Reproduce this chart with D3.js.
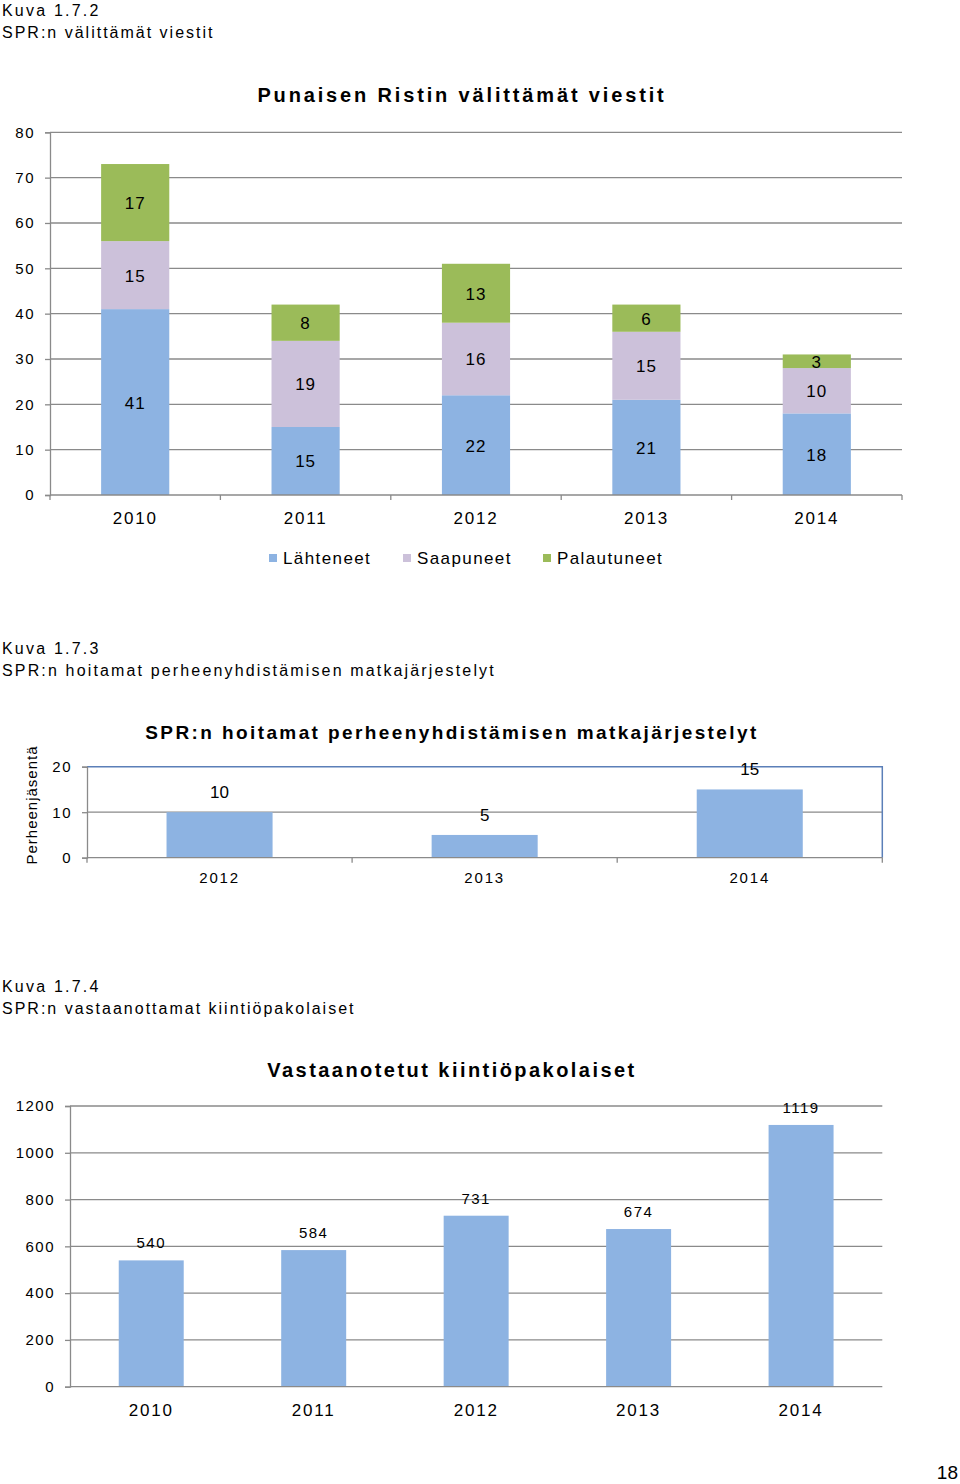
<!DOCTYPE html>
<html><head><meta charset="utf-8">
<script src="https://cdn.jsdelivr.net/npm/d3@7"></script>
<style>
body{margin:0;background:#fff;}
svg{display:block;font-family:"Liberation Sans",Arial,sans-serif;}
</style></head>
<body>
<svg id="c" width="960" height="1484"></svg>
<script>
// ---- Data ----
const years1 = ["2010","2011","2012","2013","2014"];
const seriesNames1 = ["Lähteneet","Saapuneet","Palautuneet"];
const lahteneet = [41,15,22,21,18];
const saapuneet = [15,19,16,15,10];
const palautuneet = [17,8,13,6,3];
const yTicks1 = [0,10,20,30,40,50,60,70,80];

const years2 = ["2012","2013","2014"];
const perhe = [10,5,15];
const yTicks2 = [0,10,20];

const years3 = ["2010","2011","2012","2013","2014"];
const kiintio = [540,584,731,674,1119];
const yTicks3 = [0,200,400,600,800,1000,1200];

const colors1 = ["#8db3e2","#ccc1da","#9bbb59"];
const barBlue = "#8db3e2";
const gridC = "#8a8a8a";

const svg = d3.select("#c");

function txt(x,y,s,opt={}){
  const t = svg.append("text").attr("x",x).attr("y",y).text(s)
    .attr("font-size",opt.size||16)
    .attr("fill","#000")
    .attr("letter-spacing",opt.ls!==undefined?opt.ls:1.3)
    .attr("text-anchor",opt.anchor||"start");
  if(opt.bold) t.attr("font-weight","bold");
  return t;
}

// ---- Headers ----
txt(2,16,"Kuva 1.7.2",{size:16,ls:2.2});
txt(2,38,"SPR:n välittämät viestit",{size:16,ls:2.0});
txt(462,102,"Punaisen Ristin välittämät viestit",{size:20,bold:true,ls:2.85,anchor:"middle"});

// ---- Chart 1: stacked ----
{
  const left=50,right=902,top=132.3,bottom=495;
  const x = d3.scaleBand().domain(years1).range([left,right]).paddingInner(0.6).paddingOuter(0.3);
  const y = d3.scaleLinear().domain([0,80]).range([bottom,top]);
  const g = svg.append("g");
  g.selectAll("line.grid").data(yTicks1.filter(d=>d>0)).join("line")
    .attr("x1",left).attr("x2",right).attr("y1",d=>y(d)).attr("y2",d=>y(d))
    .attr("stroke",gridC).attr("stroke-width",1.3);
  const ya = g.append("g").attr("transform",`translate(${left},0)`)
    .call(d3.axisLeft(y).tickValues(yTicks1).tickFormat(d3.format("d")).tickSize(5).tickPadding(10));
  ya.select(".domain").attr("stroke",gridC).attr("stroke-width",1.3);
  ya.selectAll(".tick line").attr("stroke",gridC).attr("stroke-width",1.3);
  ya.selectAll("text").attr("font-size",15).attr("letter-spacing",1.5).attr("fill","#000")
    .attr("font-family","Liberation Sans, Arial, sans-serif");
  const rows = years1.map((yr,i)=>({year:yr,"Lähteneet":lahteneet[i],"Saapuneet":saapuneet[i],"Palautuneet":palautuneet[i]}));
  const stack = d3.stack().keys(seriesNames1)(rows);
  stack.forEach((layer,li)=>{
    g.selectAll(null).data(layer).join("rect")
      .attr("x",d=>x(d.data.year)).attr("width",x.bandwidth())
      .attr("y",d=>y(d[1])).attr("height",d=>y(d[0])-y(d[1]))
      .attr("fill",colors1[li]);
    g.selectAll(null).data(layer).join("text")
      .attr("x",d=>x(d.data.year)+x.bandwidth()/2)
      .attr("y",d=>(y(d[0])+y(d[1]))/2+6.5)
      .attr("text-anchor","middle").attr("font-size",17).attr("letter-spacing",1)
      .text(d=>d[1]-d[0]);
  });
  const xa = g.append("g").attr("transform",`translate(0,${bottom})`)
    .call(d3.axisBottom(x).tickSize(0).tickPadding(17));
  xa.select(".domain").remove();
  xa.selectAll("text").attr("font-size",17).attr("letter-spacing",1.8).attr("fill","#000")
    .attr("font-family","Liberation Sans, Arial, sans-serif");
  g.append("line").attr("x1",left).attr("x2",right).attr("y1",bottom).attr("y2",bottom)
    .attr("stroke",gridC).attr("stroke-width",1.3);
  const bounds = d3.range(years1.length+1).map(i=>left+i*x.step());
  g.selectAll(null).data(bounds).join("line")
    .attr("x1",d=>d).attr("x2",d=>d).attr("y1",bottom).attr("y2",bottom+5)
    .attr("stroke",gridC).attr("stroke-width",1.3);
  const legX=[269,403,543];
  seriesNames1.forEach((n,i)=>{
    g.append("rect").attr("x",legX[i]).attr("y",554).attr("width",8).attr("height",8).attr("fill",colors1[i]);
    txt(legX[i]+14,564,n,{size:17,ls:1.4});
  });
}

// ---- Chart 2 ----
txt(2,654,"Kuva 1.7.3",{size:16,ls:2.2});
txt(2,676,"SPR:n hoitamat perheenyhdistämisen matkajärjestelyt",{size:16,ls:2.15});
txt(452,739,"SPR:n hoitamat perheenyhdistämisen matkajärjestelyt",{size:19,bold:true,ls:2.4,anchor:"middle"});
{
  const left=87,right=882.3,top=766.7,bottom=857.7;
  const x = d3.scaleBand().domain(years2).range([left,right]).paddingInner(0.6).paddingOuter(0.3);
  const y = d3.scaleLinear().domain([0,20]).range([bottom,top]);
  const g = svg.append("g");
  g.selectAll(null).data(yTicks2.filter(d=>d>0 && d<20)).join("line")
    .attr("x1",left).attr("x2",right).attr("y1",d=>y(d)).attr("y2",d=>y(d))
    .attr("stroke",gridC).attr("stroke-width",1.3);
  g.append("path").attr("d",`M${left},${top}H${right}V${bottom}`).attr("fill","none")
    .attr("stroke","#5b7fb8").attr("stroke-width",1.5);
  const ya = g.append("g").attr("transform",`translate(${left},0)`)
    .call(d3.axisLeft(y).tickValues(yTicks2).tickFormat(d3.format("d")).tickSize(5).tickPadding(10));
  ya.select(".domain").attr("stroke",gridC).attr("stroke-width",1.3);
  ya.selectAll(".tick line").attr("stroke",gridC).attr("stroke-width",1.3);
  ya.selectAll("text").attr("font-size",15).attr("letter-spacing",1.5).attr("fill","#000")
    .attr("font-family","Liberation Sans, Arial, sans-serif");
  g.selectAll(null).data(perhe).join("rect")
    .attr("x",(d,i)=>x(years2[i])).attr("width",x.bandwidth())
    .attr("y",d=>y(d)).attr("height",d=>bottom-y(d)).attr("fill",barBlue);
  g.selectAll(null).data(perhe).join("text")
    .attr("x",(d,i)=>x(years2[i])+x.bandwidth()/2).attr("y",d=>y(d)-14)
    .attr("text-anchor","middle").attr("font-size",17).text(d=>d);
  const xa = g.append("g").attr("transform",`translate(0,${bottom})`)
    .call(d3.axisBottom(x).tickSize(0).tickPadding(15));
  xa.select(".domain").remove();
  xa.selectAll("text").attr("font-size",15).attr("letter-spacing",1.8).attr("fill","#000")
    .attr("font-family","Liberation Sans, Arial, sans-serif");
  g.append("line").attr("x1",left).attr("x2",right).attr("y1",bottom).attr("y2",bottom)
    .attr("stroke",gridC).attr("stroke-width",1.3);
  const bounds = d3.range(years2.length+1).map(i=>left+i*x.step());
  g.selectAll(null).data(bounds).join("line")
    .attr("x1",d=>d).attr("x2",d=>d).attr("y1",bottom).attr("y2",bottom+5)
    .attr("stroke",gridC).attr("stroke-width",1.3);
  svg.append("text").attr("transform","translate(37,805) rotate(-90)")
    .attr("text-anchor","middle").attr("font-size",15).attr("letter-spacing",1).text("Perheenjäsentä");
}

// ---- Chart 3 ----
txt(2,992,"Kuva 1.7.4",{size:16,ls:2.2});
txt(2,1014,"SPR:n vastaanottamat kiintiöpakolaiset",{size:16,ls:2.0});
txt(452,1077,"Vastaanotetut kiintiöpakolaiset",{size:20,bold:true,ls:2.45,anchor:"middle"});
{
  const left=70,right=882.3,top=1106,bottom=1386.7;
  const x = d3.scaleBand().domain(years3).range([left,right]).paddingInner(0.6).paddingOuter(0.3);
  const y = d3.scaleLinear().domain([0,1200]).range([bottom,top]);
  const g = svg.append("g");
  g.selectAll(null).data(yTicks3.filter(d=>d>0)).join("line")
    .attr("x1",left).attr("x2",right).attr("y1",d=>y(d)).attr("y2",d=>y(d))
    .attr("stroke",gridC).attr("stroke-width",1.3);
  const ya = g.append("g").attr("transform",`translate(${left},0)`)
    .call(d3.axisLeft(y).tickValues(yTicks3).tickFormat(d3.format("d")).tickSize(5).tickPadding(10));
  ya.select(".domain").attr("stroke",gridC).attr("stroke-width",1.3);
  ya.selectAll(".tick line").attr("stroke",gridC).attr("stroke-width",1.3);
  ya.selectAll("text").attr("font-size",15).attr("letter-spacing",1.5).attr("fill","#000")
    .attr("font-family","Liberation Sans, Arial, sans-serif");
  g.selectAll(null).data(kiintio).join("rect")
    .attr("x",(d,i)=>x(years3[i])).attr("width",x.bandwidth())
    .attr("y",d=>y(d)).attr("height",d=>bottom-y(d)).attr("fill",barBlue);
  g.selectAll(null).data(kiintio).join("text")
    .attr("x",(d,i)=>x(years3[i])+x.bandwidth()/2).attr("y",d=>y(d)-12)
    .attr("text-anchor","middle").attr("font-size",15).attr("letter-spacing",1.5).text(d=>d);
  const xa = g.append("g").attr("transform",`translate(0,${bottom})`)
    .call(d3.axisBottom(x).tickSize(0).tickPadding(17));
  xa.select(".domain").remove();
  xa.selectAll("text").attr("font-size",17).attr("letter-spacing",1.8).attr("fill","#000")
    .attr("font-family","Liberation Sans, Arial, sans-serif");
  g.append("line").attr("x1",left).attr("x2",right).attr("y1",bottom).attr("y2",bottom)
    .attr("stroke",gridC).attr("stroke-width",1.3);
}

// page number
txt(958,1479,"18",{size:19,ls:0,anchor:"end"});
</script>
</body></html>
